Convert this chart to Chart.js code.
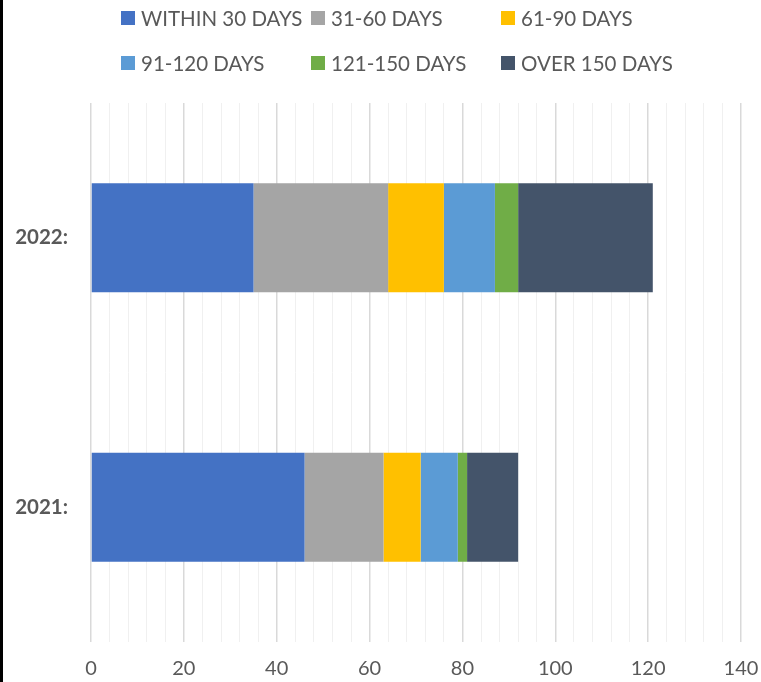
<!DOCTYPE html>
<html>
<head>
<meta charset="utf-8">
<script src="https://cdn.jsdelivr.net/npm/chart.js@4/dist/chart.umd.min.js"></script>
<style>
  html, body { margin: 0; padding: 0; background: #fff; }
  #wrap { position: relative; width: 761px; height: 682px; overflow: hidden; }
  #edge { position: absolute; left: 0; top: 0; width: 3px; height: 682px; background: #000; z-index: 2; }
  #chart { position: absolute; left: 0; top: 0; }
  .leg { position: absolute; font-family: Lato, "Noto Sans", sans-serif; font-size: 20.5px; color: #595959; white-space: nowrap; line-height: 20px; }
  .leg i { position: absolute; left: -20px; top: 3px; width: 14px; height: 14px; }
</style>
</head>
<body>
<div id="wrap">
  <div id="edge"></div>
  <canvas id="chart" width="761" height="682"></canvas>
  <div id="legend"></div>
</div>
<script>
// aging buckets, stacked horizontally per year
const categories = ['2022:', '2021:'];
const buckets = ['WITHIN 30 DAYS', '31-60 DAYS', '61-90 DAYS', '91-120 DAYS', '121-150 DAYS', 'OVER 150 DAYS'];
const within30 = [35, 46];
const days31to60 = [29, 17];
const days61to90 = [12, 8];
const days91to120 = [11, 8];
const days121to150 = [5, 2];
const over150 = [29, 11];
const colors = ['#4472C4', '#A5A5A5', '#FFC000', '#5B9BD5', '#70AD47', '#44546A'];

const series = [within30, days31to60, days61to90, days91to120, days121to150, over150];

// legend in fixed columns like the original
const leg = document.getElementById('legend');
buckets.forEach((name, i) => {
  const d = document.createElement('div');
  d.className = 'leg';
  d.style.left = (141 + (i % 3) * 190) + 'px';
  d.style.top = (8 + Math.floor(i / 3) * 45) + 'px';
  d.innerHTML = '<i style="background:' + colors[i] + '"></i>' + name;
  leg.appendChild(d);
});

new Chart(document.getElementById('chart').getContext('2d'), {
  type: 'bar',
  data: {
    labels: categories,
    datasets: series.map((s, i) => ({ label: buckets[i], data: s, backgroundColor: colors[i], borderWidth: 0 }))
  },
  options: {
    indexAxis: 'y',
    responsive: false,
    animation: false,
    barPercentage: 0.404,
    categoryPercentage: 1,
    layout: { padding: { left: 0, right: 20, top: 103, bottom: 0 } },
    plugins: { legend: { display: false }, tooltip: { enabled: false } },
    scales: {
      x: {
        stacked: true,
        min: 0, max: 140,
        border: { display: false },
        grid: {
          drawTicks: false,
          color: ctx => (ctx.tick && ctx.tick.value % 20 === 0) ? '#d9d9d9' : '#f0f0f0',
          lineWidth: ctx => (ctx.tick && ctx.tick.value % 20 === 0) ? 1.5 : 1
        },
        ticks: {
          stepSize: 4,
          autoSkip: false,
          maxRotation: 0,
          padding: 15,
          color: '#595959',
          font: { family: 'Lato', size: 20 },
          callback: v => (v % 20 === 0 ? v : '')
        },
        afterFit: s => { s.height = 40; s.paddingLeft = 0; s.paddingRight = 0; }
      },
      y: {
        stacked: true,
        border: { display: false },
        grid: { display: false, drawTicks: false },
        ticks: { padding: 23, color: '#595959', font: { family: 'Lato', size: 20.5, weight: 'bold' } },
        afterFit: s => { s.width = 91; }
      }
    }
  }
});
</script>
</body>
</html>
